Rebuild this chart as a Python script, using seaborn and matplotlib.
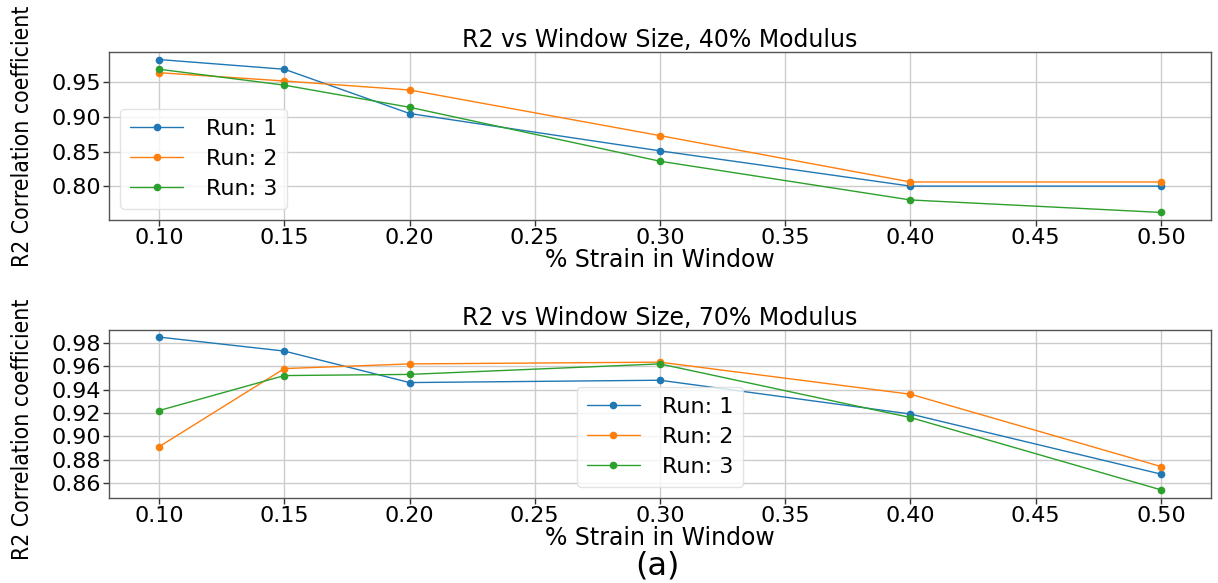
import matplotlib
matplotlib.use("Agg")
import matplotlib.pyplot as plt
import seaborn as sns
import pandas as pd

strain = [0.10, 0.15, 0.20, 0.30, 0.40, 0.50]
runs = ["Run: 1", "Run: 2", "Run: 3"]

r2_40_run1 = [0.983, 0.969, 0.905, 0.851, 0.800, 0.800]
r2_40_run2 = [0.964, 0.952, 0.939, 0.873, 0.806, 0.806]
r2_40_run3 = [0.969, 0.946, 0.914, 0.836, 0.780, 0.762]

r2_70_run1 = [0.985, 0.973, 0.946, 0.948, 0.919, 0.8675]
r2_70_run2 = [0.891, 0.958, 0.962, 0.9635, 0.936, 0.874]
r2_70_run3 = [0.922, 0.952, 0.953, 0.962, 0.916, 0.854]

titles = ["R2 vs Window Size, 40% Modulus", "R2 vs Window Size, 70% Modulus"]
xlabel = "% Strain in Window"
ylabel = "R2 Correlation coefficient"
xticks = [0.10, 0.15, 0.20, 0.25, 0.30, 0.35, 0.40, 0.45, 0.50]
yticks_top = [0.80, 0.85, 0.90, 0.95]
yticks_bot = [0.86, 0.88, 0.90, 0.92, 0.94, 0.96, 0.98]
panel_label = "(a)"


def make_df(series):
    rows = []
    for run, vals in zip(runs, series):
        for x, y in zip(strain, vals):
            rows.append({"strain": x, "r2": y, "run": run})
    return pd.DataFrame(rows)


sns.set_theme(style="ticks")
plt.rcParams["font.family"] = ["DejaVu Sans"]
plt.rcParams["axes.edgecolor"] = "#555555"
plt.rcParams["axes.linewidth"] = 1.0
plt.rcParams["text.color"] = "black"
plt.rcParams["axes.labelcolor"] = "black"
plt.rcParams["axes.titlecolor"] = "black"

fig = plt.figure(figsize=(12.18, 5.83), dpi=100)
ax1 = fig.add_axes([0.0895, 0.6226, 0.9048, 0.2876])
ax2 = fig.add_axes([0.0895, 0.1460, 0.9048, 0.2880])

palette = ["#1f77b4", "#ff7f0e", "#2ca02c"]
datasets = [
    (ax1, [r2_40_run1, r2_40_run2, r2_40_run3], yticks_top, "lower left", 0.5),
    (ax2, [r2_70_run1, r2_70_run2, r2_70_run3], yticks_bot, "lower center", 0.41),
]

for i, (ax, series, yt, loc, ylab_pos) in enumerate(datasets):
    df = make_df(series)
    sns.lineplot(data=df, x="strain", y="r2", hue="run", palette=palette,
                 marker="o", markersize=5.5, markeredgewidth=0, linewidth=1.0,
                 ax=ax)
    ax.set_xticks(xticks)
    ax.set_xticklabels([f"{v:.2f}" for v in xticks])
    ax.set_yticks(yt)
    ax.set_yticklabels([f"{v:.2f}" for v in yt])
    ax.set_xlim(0.08, 0.52)
    ax.grid(True, color="#cccccc", linewidth=1.0)
    ax.tick_params(labelsize=16, length=4, width=1, colors="#333333",
                   labelcolor="black", pad=2)
    ax.set_title(titles[i], fontsize=17, pad=3, color="black")
    ax.set_xlabel(xlabel, fontsize=17, labelpad=0, color="black")
    ax.set_ylabel(ylabel, fontsize=16.5, fontstretch="condensed", color="black",
                  family=["DejaVu Sans Condensed", "DejaVu Sans"])
    ax.yaxis.set_label_coords(-0.068, ylab_pos)
    leg = ax.legend(loc=loc, fontsize=16, frameon=True,
                    handlelength=2.4, borderpad=0.45, labelspacing=0.45,
                    handletextpad=1.0)
    leg.get_frame().set_edgecolor("#dddddd")
    for t in leg.get_texts():
        t.set_color("black")

ax1.set_ylim(0.751, 0.9934)
ax2.set_ylim(0.8471, 0.9911)

fig.text(0.54, 0.030, panel_label, fontsize=23, ha="center", va="center",
         color="black")

fig.savefig("out.png", dpi=100)
